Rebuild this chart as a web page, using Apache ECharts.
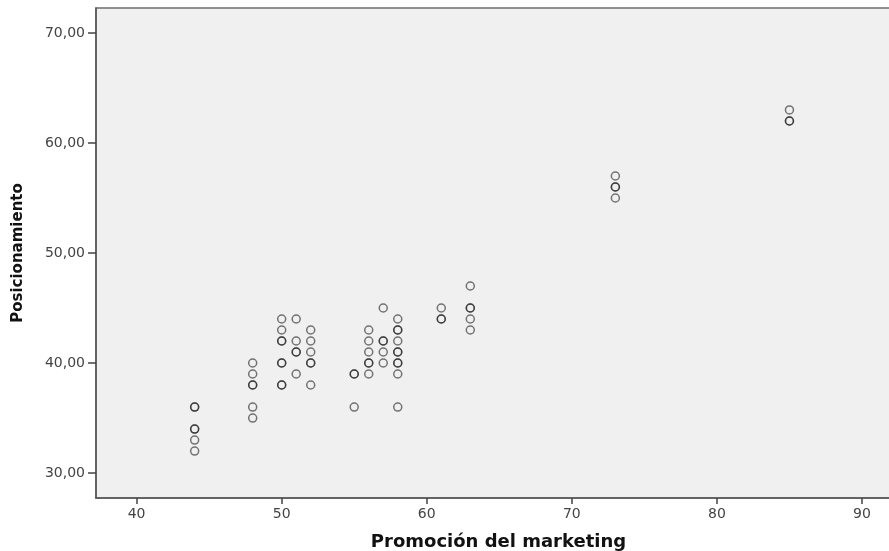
<!DOCTYPE html>
<html>
<head>
<meta charset="utf-8">
<script src="https://cdn.jsdelivr.net/npm/echarts@6/dist/echarts.min.js"></script>
<style>
html,body{margin:0;padding:0;background:#fff;}
#chart{width:889px;height:551px;}
</style>
</head>
<body>
<div id="chart"></div>
<script>
// Promoción del marketing (x) and Posicionamiento (y), one entry per case
const promocion = [
  44,44,44,44,44,44,
  48,48,48,48,48,48,
  50,50,50,50,50,50,50,50,
  51,51,51,51,51,
  52,52,52,52,52,52,
  55,55,55,
  56,56,56,56,56,56,
  57,57,57,57,57,
  58,58,58,58,58,58,58,58,58,58,
  61,61,61,
  63,63,63,63,63,
  73,73,73,73,
  85,85,85
];
const posicionamiento = [
  36,36,34,34,33,32,
  40,39,38,38,36,35,
  44,43,42,42,40,40,38,38,
  44,42,41,41,39,
  43,42,41,40,40,38,
  39,39,36,
  43,42,41,40,40,39,
  45,42,42,41,40,
  44,43,43,42,41,41,40,40,39,36,
  45,44,44,
  47,45,45,44,43,
  57,56,56,55,
  63,62,62
];
const xTicks = [40,50,60,70,80,90];
const yTicks = [30,40,50,60,70];

const points = promocion.map((x, i) => [x, posicionamiento[i]]);

const chart = echarts.init(document.getElementById('chart'));
chart.setOption({
  animation: false,
  backgroundColor: '#ffffff',
  grid: {
    left: 96, top: 8, width: 795, height: 490,
    outerBoundsMode: 'none', containLabel: false,
    show: true, backgroundColor: '#f0f0f0',
    borderColor: '#6e6e6e', borderWidth: 1.5
  },
  xAxis: {
    type: 'value', min: 37.2, max: 92,
    name: 'Promoción del marketing',
    nameLocation: 'middle', nameGap: 35,
    nameTextStyle: { fontFamily: 'DejaVu Sans', fontWeight: 'bold', fontSize: 18, color: '#111', padding: [0,0,0,10] },
    splitLine: { show: false },
    axisLine: { show: true, onZero: false, lineStyle: { color: '#555', width: 1.5 } },
    axisTick: { show: true, length: 6, customValues: xTicks, lineStyle: { color: '#444', width: 1.5 } },
    axisLabel: { customValues: xTicks, margin: 9, fontFamily: 'DejaVu Sans', fontSize: 14, color: '#444' }
  },
  yAxis: {
    type: 'value', min: 27.73, max: 72.27,
    name: 'Posicionamiento',
    nameLocation: 'middle', nameGap: 70, nameRotate: 90,
    nameTextStyle: { fontFamily: 'DejaVu Sans', fontWeight: 'bold', fontSize: 15, color: '#111' },
    splitLine: { show: false },
    axisLine: { show: true, onZero: false, lineStyle: { color: '#555', width: 1.5 } },
    axisTick: { show: true, length: 8, customValues: yTicks, lineStyle: { color: '#444', width: 1.5 } },
    axisLabel: {
      customValues: yTicks, margin: 11, fontFamily: 'DejaVu Sans', fontSize: 14, color: '#444',
      formatter: v => v.toFixed(2).replace('.', ',')
    }
  },
  series: [{
    type: 'scatter',
    data: points,
    symbol: 'circle',
    symbolSize: 8,
    itemStyle: { color: 'rgba(0,0,0,0)', borderColor: 'rgba(20,20,20,0.72)', borderWidth: 1.5 },
    emphasis: { disabled: true }
  }]
});
</script>
</body>
</html>
